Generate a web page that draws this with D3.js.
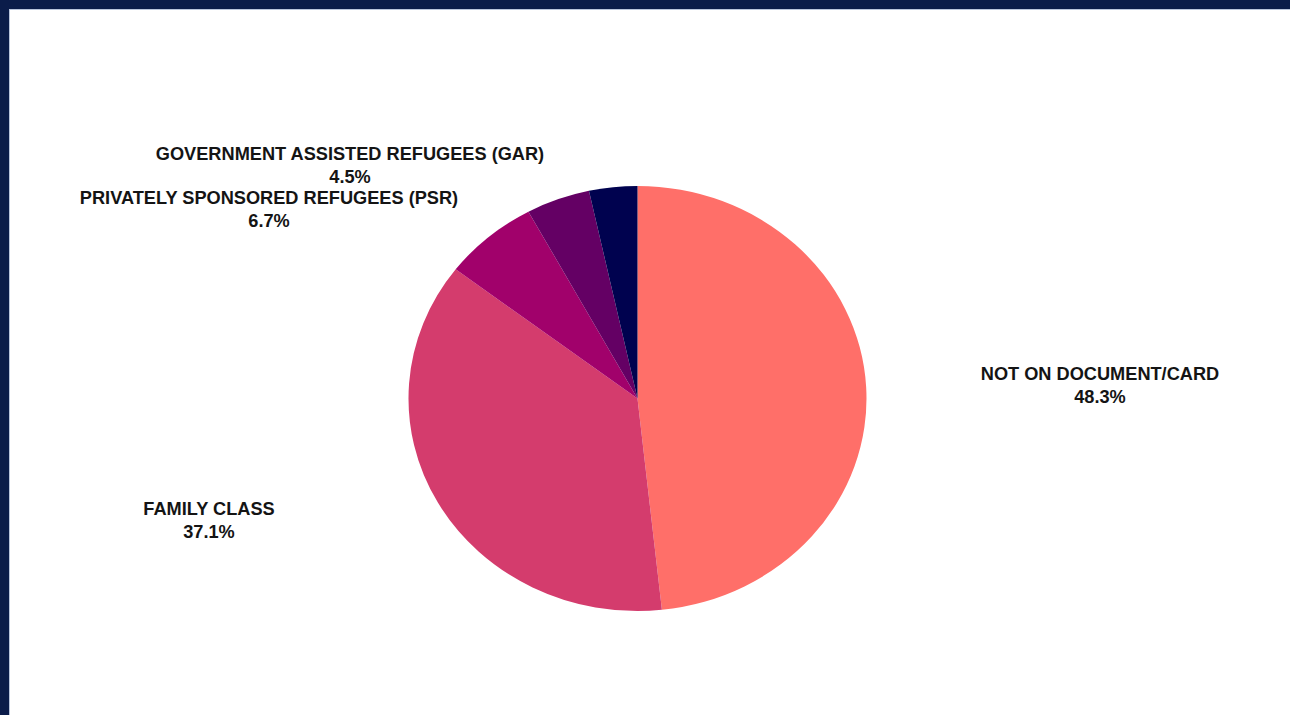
<!DOCTYPE html>
<html>
<head>
<meta charset="utf-8">
<script src="https://cdn.jsdelivr.net/npm/d3@7"></script>
<style>
  html, body { margin: 0; padding: 0; background: #ffffff; }
  svg { display: block; }
  text { font-family: "Liberation Sans", Arial, sans-serif; font-weight: bold; }
</style>
</head>
<body>
<svg id="chart" width="1290" height="715"></svg>
<script>
// Immigration category shares (percent)
const categories = ["NOT ON DOCUMENT/CARD", "FAMILY CLASS", "PRIVATELY SPONSORED REFUGEES (PSR)", "GOVERNMENT ASSISTED REFUGEES (GAR)", "OTHER"];
const values = [48.3, 37.1, 6.7, 4.5, 3.4];
const labelled = [true, true, true, true, false];
const colors = ["#ff6f69", "#d43c6d", "#a1016b", "#640064", "#00024f"];

// Label anchor points (centre of the two-line label block)
const labelPos = [
  { x: 1100, y: 380 },
  { x: 209, y: 515 },
  { x: 269, y: 204 },
  { x: 350, y: 160 }
];

const W = 1290, H = 715;
const cx = 637.5, cy = 398.5;
const rx = 229, ry = 212.5;

const svg = d3.select("#chart");

// Dark frame along the top and left edges
svg.append("rect").attr("x", 0).attr("y", 0).attr("width", W).attr("height", H).attr("fill", "#0b1c4a");
svg.append("rect").attr("x", 9).attr("y", 9).attr("width", W - 9).attr("height", H - 9).attr("fill", "#ffffff");
svg.append("line").attr("x1", 9).attr("x2", W).attr("y1", 9.5).attr("y2", 9.5).attr("stroke", "#b9c4dc").attr("stroke-width", 1);
svg.append("line").attr("x1", 9.5).attr("x2", 9.5).attr("y1", 9).attr("y2", H).attr("stroke", "#b9c4dc").attr("stroke-width", 1);

const data = categories.map((c, i) => ({ name: c, value: values[i], color: colors[i], labelled: labelled[i], i }));

const pie = d3.pie().sort(null).value(d => d.value);
const arc = d3.arc().innerRadius(0).outerRadius(ry);

// Pie drawn on a circle of radius ry, stretched horizontally to rx
const g = svg.append("g")
  .attr("transform", `translate(${cx},${cy}) scale(${rx / ry},1)`);

g.selectAll("path")
  .data(pie(data))
  .join("path")
  .attr("d", arc)
  .attr("fill", d => d.data.color);

const fmt = v => d3.format(".1f")(v) + "%";

const labels = svg.append("g");
data.filter(d => d.labelled).forEach(d => {
  const p = labelPos[d.i];
  const t = labels.append("text")
    .attr("x", p.x)
    .attr("y", p.y)
    .attr("text-anchor", "middle")
    .attr("fill", "#141414")
    .attr("font-size", 18.2);
  t.append("tspan").attr("x", p.x).attr("dy", 0).text(d.name);
  t.append("tspan").attr("x", p.x).attr("dy", 23).text(fmt(d.value));
});
</script>
</body>
</html>
